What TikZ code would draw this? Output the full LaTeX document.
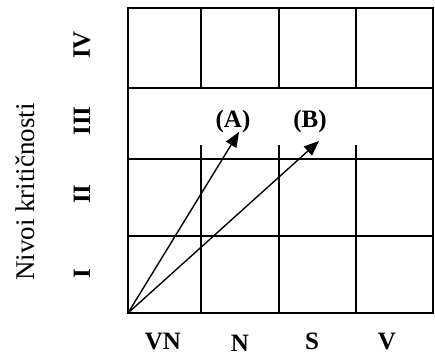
\documentclass[tikz,border=0pt]{standalone}
\usepackage{fontspec}
\setmainfont{Liberation Serif}
\usetikzlibrary{arrows.meta}

\begin{document}
\begin{tikzpicture}[x=1pt,y=-1pt,
    grid/.style={line width=1.9pt},
    vec/.style={line width=1.4pt,-{Triangle[length=15pt,width=12pt]}},
    lvl/.style={rotate=90,inner sep=0pt,font=\fontsize{25}{25}\selectfont\bfseries},
    cat/.style={inner sep=0pt,font=\fontsize{25}{25}\selectfont\bfseries}]
  \useasboundingbox (0,0) rectangle (435,357);
  % grid
  \draw[grid] (128,8) rectangle (433,313);
  \foreach \y in {88,159,236}
    \draw[grid] (128,\y) -- (433,\y);
  \foreach \x in {201,279,356} {
    \draw[grid] (\x,8) -- (\x,88);
    \draw[grid] (\x,145) -- (\x,313);
  }
  % axis labels
  \node[rotate=90,font=\fontsize{27}{27}\selectfont] (axis) at (25,192) {Nivoi kritičnosti};
  \foreach \n/\t/\y in {iv/IV/45,iii/III/121,ii/II/194,i/I/274}
    \node[lvl] (lvl\n) at (82,\y) {\t};
  \foreach \n/\t/\x/\y in {vn/VN/163/341,n/N/240/343,s/S/312/341,v/V/387/341}
    \node[cat] (cat\n) at (\x,\y) {\t};
  % vectors
  \coordinate (o) at (128,313);
  \coordinate (tipA) at (239,132);
  \coordinate (tipB) at (319,141);
  \node[cat] (labA) at (233,121) {(A)};
  \node[cat] (labB) at (310,121) {(B)};
  \draw[vec] (o) -- (tipA);
  \draw[vec] (o) -- (tipB);
\end{tikzpicture}
\end{document}
